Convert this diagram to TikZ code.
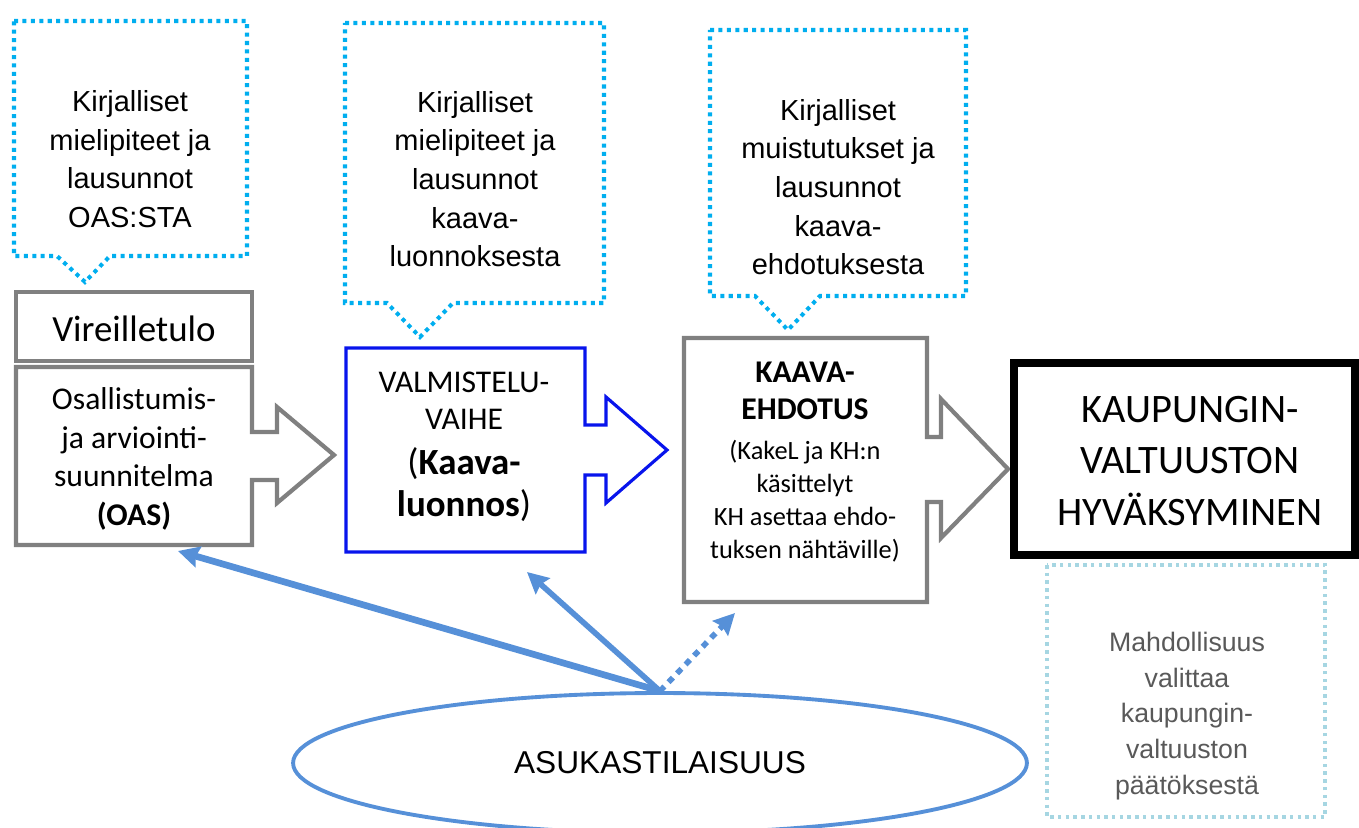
\documentclass[tikz,border=0pt]{standalone}
\usepackage{fontspec}
\setmainfont{Liberation Sans}
\newfontfamily\calfont{Carlito}
\usetikzlibrary{arrows.meta,shapes.geometric}
\definecolor{cyanline}{HTML}{00AEEF}
\definecolor{paleline}{HTML}{A6D6E2}
\definecolor{stepgray}{HTML}{808080}
\definecolor{draftblue}{HTML}{0814EC}
\definecolor{folkblue}{HTML}{5690D8}
\definecolor{notegray}{HTML}{595959}
\tikzset{bubble/.style={draw=cyanline, line width=2.3pt, dash pattern=on 2.3pt off 2.5pt},
         phase/.style={draw=stepgray, line width=2.4pt, line join=miter},
         say/.style={font=\fontsize{16.5}{22}\selectfont, align=center},
         calib/.style={font=\calfont\fontsize{18}{22}\selectfont, align=center},
         voice/.style={draw=folkblue, line width=#1,
           -{Stealth[inset=1.5pt,length=12pt,width=12pt]}},
         voice/.default={3pt}}

\begin{document}
\begin{tikzpicture}[x=0.02cm,y=-0.02cm]
  \useasboundingbox (0,0) rectangle (1359,828);
  % puhekuplat
  \draw[bubble] (14,21) -- (247,21) -- (247,256) -- (110,256) -- (85,282) -- (57,256) -- (14,256) -- cycle;
  \draw[bubble] (345,23) -- (604,23) -- (604,303) -- (453,303) -- (420,337) -- (387,303) -- (345,303) -- cycle;
  \draw[bubble] (710,30) -- (966,30) -- (966,296) -- (820,296) -- (788,330) -- (755,296) -- (710,296) -- cycle;
  \node[say] (oasmiel) at (130,159) {Kirjalliset\\mielipiteet ja\\lausunnot\\OAS:STA};
  \node[say] (luonmiel) at (475,179) {Kirjalliset\\mielipiteet ja\\lausunnot\\kaava-\\luonnoksesta};
  \node[say] (ehdmuist) at (838,187) {Kirjalliset\\muistutukset ja\\lausunnot\\kaava-\\ehdotuksesta};
  % vaiheet
  \draw[phase] (16,292) rectangle (252,361);
  \draw[phase] (16,367) -- (252,367) -- (252,432) -- (277,432) -- (277,407) -- (334,455)
    -- (277,503) -- (277,480) -- (252,480) -- (252,545) -- (16,545) -- cycle;
  \draw[draftblue, line width=1.8pt, line join=miter] (346,348) -- (585,348) -- (585,425) -- (606,425)
    -- (606,397) -- (667,450) -- (606,503) -- (606,475) -- (585,475) -- (585,552) -- (346,552) -- cycle;
  \draw[phase] (684,338) -- (927,338) -- (927,437) -- (941,437) -- (941,399) -- (1008,469)
    -- (941,538) -- (941,502) -- (927,502) -- (927,602) -- (684,602) -- cycle;
  \draw[line width=5pt] (1014,363) rectangle (1355,555);
  \node[calib, font=\calfont\fontsize{21}{25}\selectfont] (vir) at (134,329) {Vireilletulo};
  \node[calib] (oas) at (134,459) {Osallistumis-\\ja arviointi-\\suunnitelma\\\textbf{(OAS)}};
  \node[calib, font=\calfont\fontsize{18}{21}\selectfont] (luonnos) at (464,447)
    {VALMISTELU-\\VAIHE\\[4.5pt]{\fontsize{21}{24}\selectfont(\textbf{Kaava-}}\\[3.4pt]{\fontsize{21}{24}\selectfont\textbf{luonnos})}};
  \node[calib, font=\calfont\fontsize{15}{18.7}\selectfont] (ehdotus) at (805,462)
    {\textbf{\fontsize{18}{21}\selectfont KAAVA-}\\[2.3pt]\textbf{\fontsize{18}{21}\selectfont EHDOTUS}\\[4.3pt](KakeL ja KH:n\\k\"asittelyt\\KH asettaa ehdo-\\tuksen n\"aht\"aville)};
  \node[calib, font=\calfont\fontsize{23}{29.5}\selectfont] (kv) at (1190,461)
    {KAUPUNGIN-\\VALTUUSTON\\HYV\"AKSYMINEN};
  % valitus
  \draw[draw=paleline, line width=1.9pt, dash pattern=on 2pt off 2.4pt] (1047,565) rectangle (1325,817);
  \node[say, text=notegray, font=\fontsize{15.2}{20.4}\selectfont] (valitus) at (1187,716)
    {Mahdollisuus\\valittaa\\kaupungin-\\valtuuston\\p\"a\"at\"oksest\"a};
  % asukastilaisuus
  \node[ellipse, draw=folkblue, line width=2.2pt, minimum width=14.68cm, minimum height=2.8cm,
        inner sep=0pt, font=\fontsize{18}{22}\selectfont] (asuk) at (660,763) {ASUKASTILAISUUS};
  \coordinate (oastip) at (178,551);
  \coordinate (luontip) at (527,572);
  \coordinate (ehdtip) at (735,613);
  \draw[voice=3.8pt] (asuk.north) -- (oastip);
  \draw[voice=3.2pt] (asuk.north) -- (luontip);
  \draw[voice=3.2pt, dash pattern=on 3.6pt off 3.4pt] (asuk.north) -- (ehdtip);
\end{tikzpicture}
\end{document}
